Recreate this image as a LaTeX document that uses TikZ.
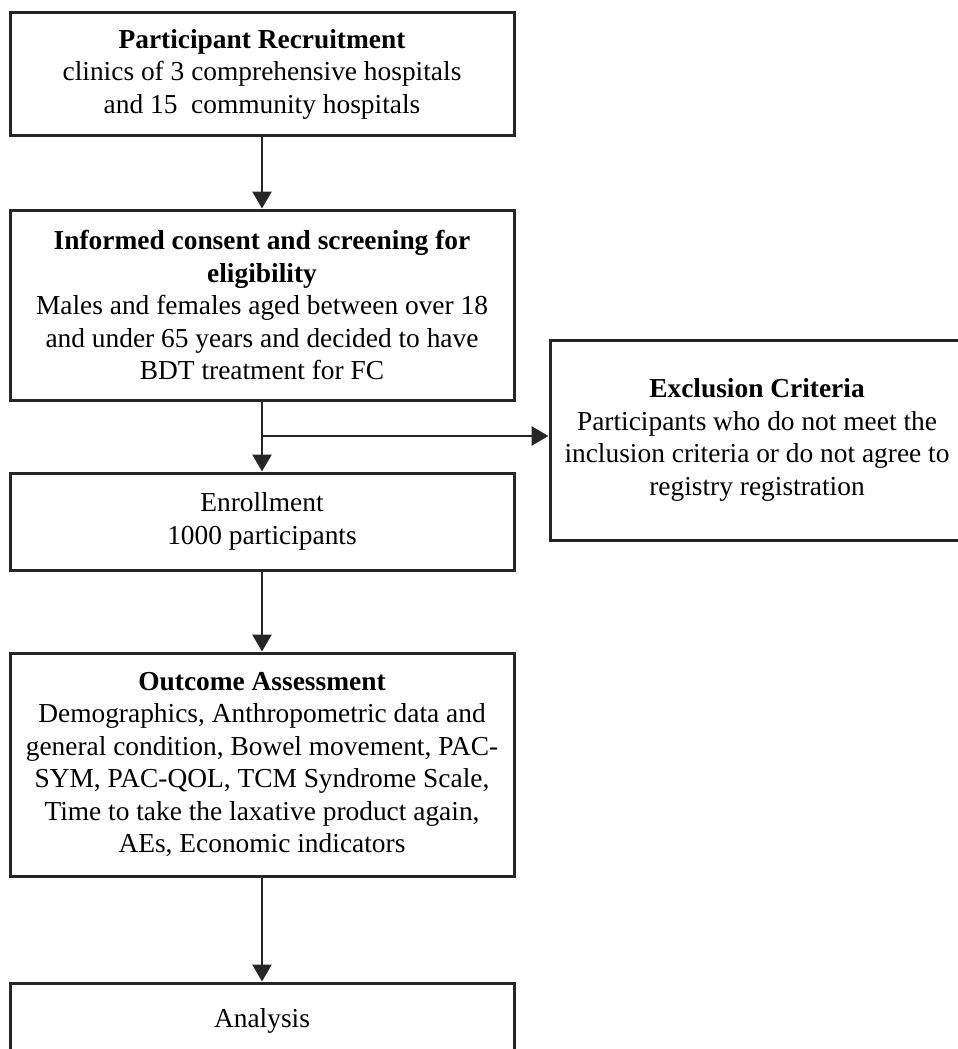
\documentclass[tikz,border=0pt]{standalone}
\usepackage{fontspec}
\setmainfont{Liberation Serif}
\usetikzlibrary{arrows.meta}
\begin{document}
\begin{tikzpicture}[x=1pt,y=-1pt,
  box/.style={draw=black!85, line width=3pt, align=center, inner sep=0pt,
    font=\fontsize{27.4}{32.5}\selectfont},
  arr/.style={draw=black!85, line width=2.8pt, -{Triangle[width=19pt,length=17pt]}},
  ln/.style={draw=black!85, line width=2.8pt}]
\clip (0,0) rectangle (958,1049);
\fill[white] (0,0) rectangle (958,1049);
\node[box, minimum width=504pt, minimum height=122pt] (rec) at (262,74)
  {\textbf{Participant Recruitment}\\clinics of 3 comprehensive hospitals\\and 15\ \ community hospitals};
\node[box, minimum width=504pt, minimum height=190pt] (scr) at (262,305)
  {\textbf{Informed consent and screening for}\\\textbf{eligibility}\\Males and females aged between over 18\\and under 65 years and decided to have\\BDT treatment for FC};
\node[box, minimum width=504pt, minimum height=97pt] (enr) at (262,521.5)
  {Enrollment\\1000 participants};
\node[box, minimum width=504pt, minimum height=223pt] (out) at (262,764.5)
  {\textbf{Outcome Assessment}\\Demographics, Anthropometric data and\\general condition, Bowel movement, PAC-\\SYM, PAC-QOL, TCM Syndrome Scale,\\Time to take the laxative product again,\\AEs, Economic indicators};
\node[box, minimum width=504pt, minimum height=75pt] (ana) at (262,1020.5)
  {Analysis};
\node[box, minimum width=414pt, minimum height=200pt] (exc) at (757,440)
  {\textbf{Exclusion Criteria}\\Participants who do not meet the\\inclusion criteria or do not agree to\\registry registration};
\coordinate (br) at (262,436);
\draw[arr] (rec.south) -- (scr.north);
\draw[arr] (scr.south) -- (enr.north);
\draw[arr] (br) -- (br -| exc.west);
\draw[arr] (enr.south) -- (out.north);
\draw[arr] (out.south) -- (ana.north);
\end{tikzpicture}
\end{document}
